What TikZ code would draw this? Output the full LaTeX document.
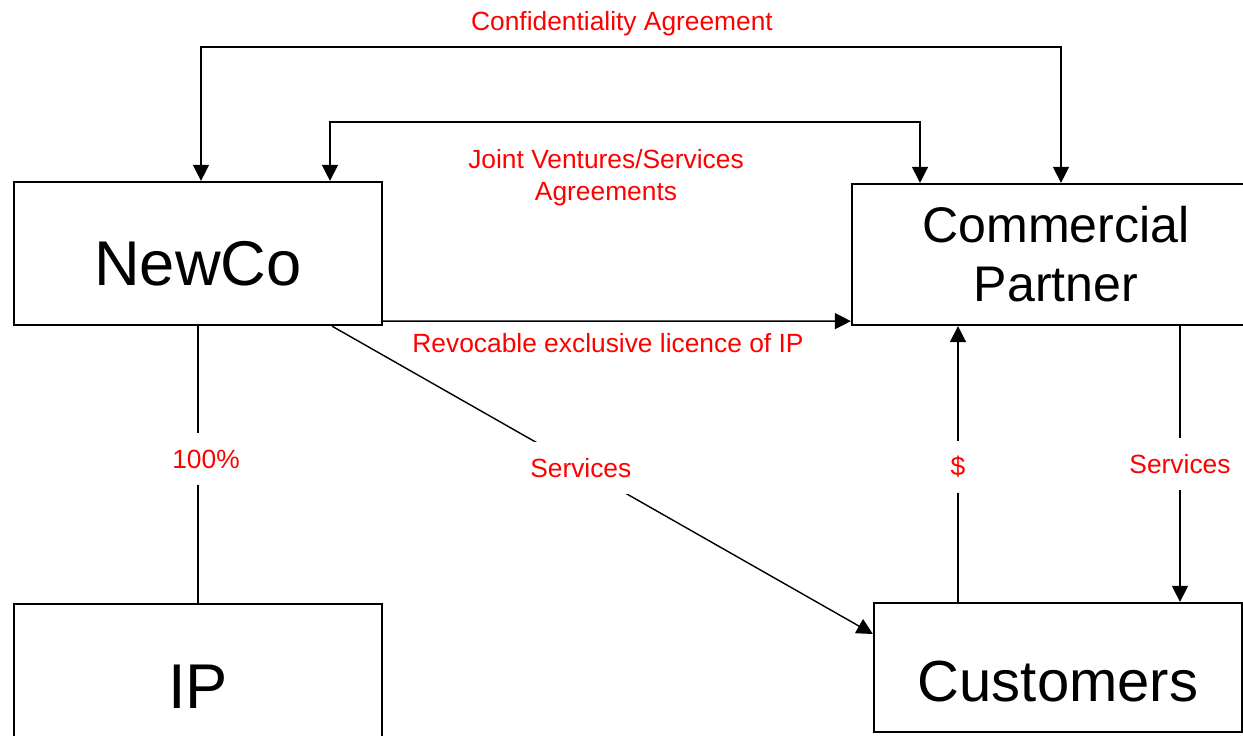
\documentclass[tikz,border=0pt]{standalone}
\usepackage{fontspec}
\setmainfont{Liberation Sans}
\usetikzlibrary{arrows.meta}

\begin{document}
\begin{tikzpicture}[x=0.02cm, y=-0.02cm,
	box/.style={draw, line width=1.3pt, minimum width=7.36cm, minimum height=2.86cm, inner sep=0pt},
	lbl/.style={red, font=\fontsize{15}{18}\selectfont, align=center},
	gap/.style={lbl, fill=white, inner sep=1pt, minimum height=1.04cm},
	link/.style={line width=0.8pt, >={Triangle[length=0.32cm, width=0.32cm]}}]
	\clip (0,0) rectangle (1243,736);
	% boxes
	\node[box, font=\fontsize{36}{40}\selectfont, text height=1.31cm] (newco) at (198,253.5) {NewCo};
	\node[box, font=\fontsize{36}{40}\selectfont, text height=1.31cm] (ip) at (198,675.5) {IP};
	\node[box, font=\fontsize{28.5}{33.5}\selectfont, align=center, minimum width=8.16cm, minimum height=2.82cm] (partner) at (1056,254.5) {Commercial\\Partner};
	\node[box, font=\fontsize{33}{38}\selectfont, text height=1.37cm, minimum height=2.58cm] (customers) at (1058,667.5) {Customers};
	% agreements
	\draw[link, <->] ([xshift=0.06cm]newco.north) -- ++(0,-134) -| ([xshift=0.1cm]partner.north);
	\draw[link, <->] ([xshift=2.64cm]newco.north) -- ++(0,-59) -| ([xshift=-2.72cm]partner.north);
	\draw[link, ->] ([yshift=0.1cm]newco.south east) -- ([yshift=0.1cm]partner.south west);
	\node[lbl] (conf) at (622,24) {Confidentiality Agreement};
	\node[lbl] (jv) at (606,178) {Joint Ventures/Services\\Agreements};
	\node[lbl] (licence) at (608,343) {Revocable exclusive licence of IP};
	% flows
	\draw[link] (newco.south) -- (ip.north) node[gap, pos=0.48, xshift=0.16cm] (pct) {100\%};
	\draw[link, ->] ([xshift=2.68cm]newco.south) -- ([yshift=0.67cm]customers.west) node[gap, pos=0.46] (svc1) {Services};
	\draw[link, ->] ([xshift=-2cm]customers.north) -- ([xshift=-2cm]customers.north |- partner.south) node[gap, pos=0.49] (pay) {\$};
	\draw[link, ->] ([xshift=2.48cm]partner.south) -- ([xshift=2.48cm]partner.south |- customers.north) node[gap, midway] (svc2) {Services};
\end{tikzpicture}
\end{document}
